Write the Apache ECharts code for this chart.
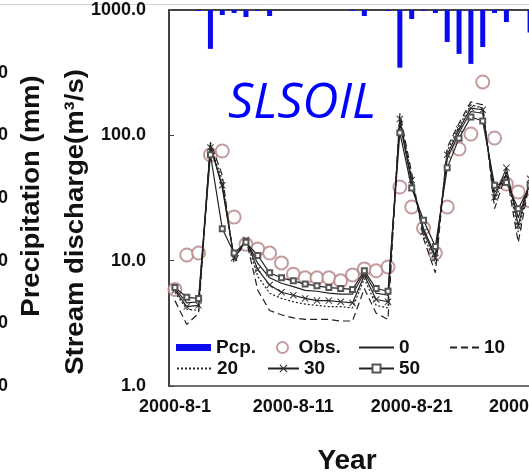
<!DOCTYPE html>
<html>
<head>
<meta charset="utf-8">
<script src="https://cdn.jsdelivr.net/npm/echarts@6/dist/echarts.min.js"></script>
<style>
  html, body { margin: 0; padding: 0; background: #fff; }
  #chart { width: 529px; height: 474px; }
</style>
</head>
<body>
<div id="chart"></div>
<script>
// daily categories, August 2000
const days = [];
for (let d = 1; d <= 31; d++) days.push("2000-8-" + d);

// precipitation (mm), hanging from the top
const pcp = [0, 0, 0.8, 31, 4, 2.4, 5.6, 0.8, 4.8, 0, 0, 0, 0, 0, 0, 0.8,
  4.8, 0, 0.8, 46, 7.2, 0.8, 2.4, 25.5, 35, 43, 29.5, 2.4, 9.6, 0, 18];

// observed discharge (m3/s)
const obs = [5.9, 11.1, 11.5, 70, 75, 22.3, 13.5, 12.4, 11.5, 9.6, 7.8, 7.3,
  7.3, 7.3, 6.9, 7.7, 8.6, 8.3, 8.9, 38.7, 26.8, 18.2, 11.5, 26.8, 77.8,
  102.5, 266.5, 95.2, 40.9, 35.3, 30];

// simulated discharge for each case
const sim0 = [6.0, 4.6, 4.7, 85, 38, 10.5, 14.5, 9.5, 7.3, 6.6, 6.2, 5.8,
  5.7, 5.5, 5.4, 5.4, 8.0, 5.5, 5.3, 125, 42, 18, 11, 65, 105, 155, 150,
  35, 48, 22, 42];
const sim10 = [4.8, 3.1, 3.8, 88, 48, 9.5, 15, 5.8, 4.0, 3.7, 3.5, 3.4,
  3.4, 3.4, 3.3, 3.3, 6.0, 3.8, 3.4, 150, 50, 15, 8.0, 80, 125, 185, 175,
  26, 50, 14, 45];
const sim20 = [5.6, 4.1, 4.0, 82, 44, 10, 15, 7.5, 5.5, 5.0, 4.7, 4.5,
  4.4, 4.3, 4.3, 4.2, 7.2, 4.4, 4.2, 140, 46, 16, 9.5, 75, 118, 175, 165,
  30, 52, 17, 45];
const sim30 = [5.8, 4.3, 4.4, 80, 40, 10.5, 14.6, 8.5, 6.4, 5.6, 5.3, 5.0,
  4.8, 4.8, 4.7, 4.6, 7.6, 4.9, 4.7, 135, 44, 17, 10.5, 70, 112, 165, 160,
  32, 55, 19, 45];
const sim50 = [6.1, 5.1, 5.0, 70, 18, 11.5, 14, 11, 8.0, 7.3, 6.9, 6.5,
  6.3, 6.1, 6.0, 5.9, 8.3, 6.0, 5.7, 105, 38, 21, 13, 55, 95, 140, 130,
  40, 42, 26, 40];

const font = "Liberation Sans";
const ink = "#222";
const xMark = "path://M0,1L1,0L5,4L9,0L10,1L6,5L10,9L9,10L5,6L1,10L0,9L4,5Z";

function legendItem(name, left, top, w, h, extra) {
  return Object.assign({
    data: [name],
    left: left,
    top: top,
    padding: 0,
    itemWidth: w,
    itemHeight: h,
    selectedMode: false,
    textStyle: { fontFamily: font, fontSize: 19, fontWeight: "bold", color: "#111" },
  }, extra || {});
}

function simLine(name, values, lineType, symbol, size, markColor) {
  return {
    name: name,
    type: "line",
    data: values,
    color: ink,
    symbol: symbol || "none",
    symbolSize: size || 0,
    showAllSymbol: true,
    itemStyle: { color: markColor || ink, borderWidth: 1 },
    lineStyle: { color: ink, width: 1.2, type: lineType },
    z: 3,
  };
}

const noMark = { itemStyle: { opacity: 0 } };

const chart = echarts.init(document.getElementById("chart"));
chart.setOption({
  animation: false,
  backgroundColor: "#fff",
  grid: {
    left: 169, top: 10, width: 367, height: 376,
    outerBoundsMode: "none",
    containLabel: false,
    show: true, borderColor: "#444", borderWidth: 1.5,
  },
  legend: [
    legendItem("Pcp.", 176, 338, 35, 7, { icon: "rect" }),
    legendItem("Obs.", 276, 338, 22, 11),
    legendItem("0", 358, 338, 35, 10, noMark),
    legendItem("10", 449, 338, 29, 10, noMark),
    legendItem("20", 176, 359, 35, 10, noMark),
    legendItem("30", 267, 359, 31, 10),
    legendItem("50", 358, 359, 35, 10),
  ],
  xAxis: {
    type: "category",
    data: days,
    boundaryGap: true,
    axisLine: { lineStyle: { color: "#444", width: 2 } },
    axisTick: { inside: true, length: 5, interval: 9, lineStyle: { color: "#444" } },
    axisLabel: {
      interval: 9, margin: 12, color: "#111",
      fontFamily: font, fontSize: 18, fontWeight: "bold",
    },
    splitLine: { show: false },
  },
  yAxis: [
    {
      type: "log",
      logBase: 10,
      min: 1,
      max: 1000,
      axisLine: { show: true, lineStyle: { color: "#444", width: 2 } },
      axisTick: { show: true, inside: true, length: 5, lineStyle: { color: "#444" } },
      minorTick: { show: false },
      splitLine: { show: false },
      axisLabel: {
        margin: 23, color: "#111", fontFamily: font, fontSize: 18, fontWeight: "bold",
        formatter: (v) => v.toFixed(1),
      },
    },
    {
      // precipitation axis, only its last digits show at the left edge
      type: "value",
      inverse: true,
      min: 0,
      max: 300,
      interval: 50,
      position: "left",
      axisLine: { show: false },
      axisTick: { show: false },
      splitLine: { show: false },
      axisLabel: {
        margin: 161, showMinLabel: false, color: "#111",
        fontFamily: font, fontSize: 18, fontWeight: "bold",
      },
    },
  ],
  graphic: [
    { type: "line", shape: { x1: 0, y1: 4.5, x2: 529, y2: 4.5 }, style: { stroke: "#d0d0d0", lineWidth: 1 } },
    {
      type: "text", x: 32, y: 196, rotation: Math.PI / 2, scaleX: 1.1,
      style: { text: "Precipitation (mm)", font: 'bold 25px "Liberation Sans"', fill: "#111", align: "center", verticalAlign: "middle" },
    },
    {
      type: "text", x: 76, y: 222, rotation: Math.PI / 2, scaleX: 1.1,
      style: { text: "Stream discharge(m\u00b3/s)", font: 'bold 25px "Liberation Sans"', fill: "#111", align: "center", verticalAlign: "middle" },
    },
    {
      type: "text", x: 228, y: 104, z: 10,
      style: { text: "SLSOIL", font: 'italic 50px "Open Sans"', fill: "#0000ff", align: "left", verticalAlign: "middle" },
    },
    {
      type: "text", x: 347, y: 461,
      style: { text: "Year", font: 'bold 28px "Liberation Sans"', fill: "#111", align: "center", verticalAlign: "middle" },
    },
  ],
  series: [
    {
      name: "Pcp.",
      type: "bar",
      yAxisIndex: 1,
      data: pcp,
      barWidth: 5,
      itemStyle: { color: "#0a0aee" },
      z: 2,
    },
    {
      name: "Obs.",
      type: "scatter",
      data: obs,
      symbol: "emptyCircle",
      symbolSize: 13,
      itemStyle: { color: "#b48282", borderWidth: 1.5 },
      z: 2,
    },
    simLine("0", sim0, "solid"),
    simLine("10", sim10, [7, 4]),
    simLine("20", sim20, [2, 2]),
    simLine("30", sim30, "solid", xMark, 7, "#333"),
    simLine("50", sim50, "solid", "emptyRect", 5, "#555"),
  ],
});
</script>
</body>
</html>
